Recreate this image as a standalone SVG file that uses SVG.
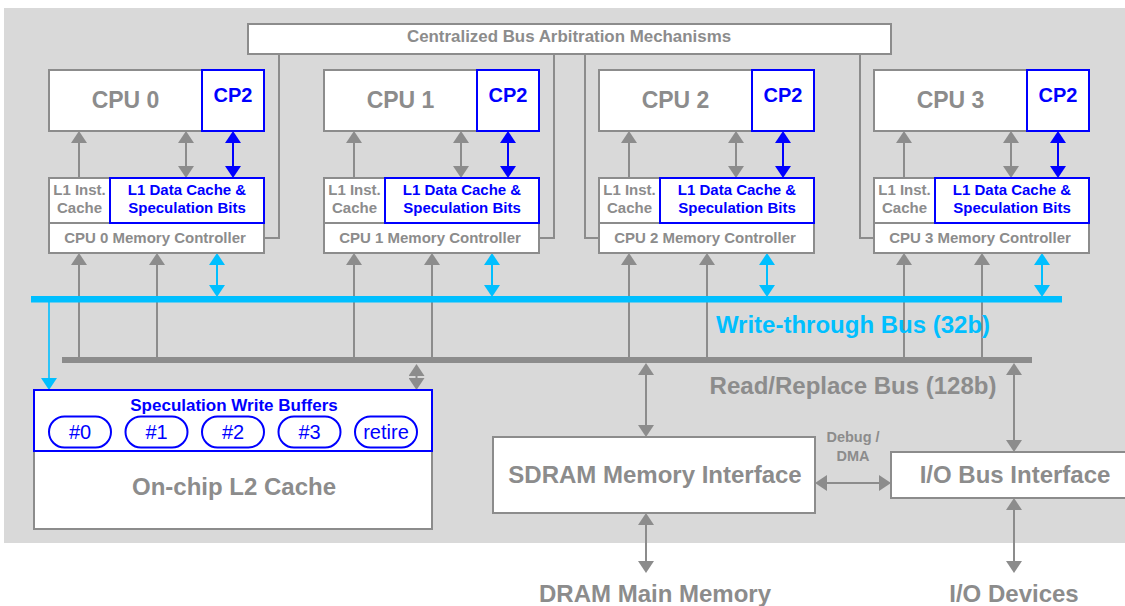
<svg xmlns="http://www.w3.org/2000/svg" width="1125" height="606" viewBox="0 0 1125 606">
<defs>
<style>
text{font-family:"Liberation Sans",Arial,sans-serif;font-weight:bold;text-anchor:middle}
.g{fill:#8c8c8c}
.b{fill:#0000ff}
.c{fill:#00bfff}
.box{fill:#fff;stroke:#8c8c8c;stroke-width:2}
.bbox{fill:#fff;stroke:#0000ff;stroke-width:2}
.bnf{fill:none;stroke:#0000ff;stroke-width:2}
.cpu{font-size:23px}
.big{font-size:24px}
.sm{font-size:15px}
.gl{stroke:#8c8c8c;stroke-width:2;fill:none}
.bl{stroke:#0000ff;stroke-width:2;fill:none}
.cl{stroke:#00bfff;stroke-width:2;fill:none}
.ga{marker-end:url(#ag)}
.gab{marker-start:url(#ag);marker-end:url(#ag)}
.bab{marker-start:url(#ab);marker-end:url(#ab)}
.cab{marker-start:url(#ac);marker-end:url(#ac)}
.oval{font-weight:normal;font-size:20px}
</style>
<marker id="ag" markerUnits="userSpaceOnUse" markerWidth="14" markerHeight="16" refX="2" refY="8" orient="auto-start-reverse" viewBox="0 0 14 16"><path d="M0,0 L12,8 L0,16 z" fill="#8c8c8c"/></marker>
<marker id="ab" markerUnits="userSpaceOnUse" markerWidth="14" markerHeight="16" refX="2" refY="8" orient="auto-start-reverse" viewBox="0 0 14 16"><path d="M0,0 L12,8 L0,16 z" fill="#0000ff"/></marker>
<marker id="ac" markerUnits="userSpaceOnUse" markerWidth="14" markerHeight="16" refX="2" refY="8" orient="auto-start-reverse" viewBox="0 0 14 16"><path d="M0,0 L12,8 L0,16 z" fill="#00bfff"/></marker>
</defs>
<rect x="4" y="8" width="1125" height="535" fill="#d9d9d9"/>

<g id="connectors">
<!-- arbitration links -->
<path class="gl" d="M264,238 H279 V54"/>
<path class="gl" d="M539,238 H554 V54"/>
<path class="gl" d="M599,238 H585 V54"/>
<path class="gl" d="M874,238 H860 V54"/>
<!-- CPU internal arrows -->
<g id="cpu-arrows">
<path class="gl ga" d="M79,178 V141"/><path class="gl gab" d="M186,141 V168"/><path class="bl bab" d="M233,141 V168"/>
<path class="gl ga" d="M354,178 V141"/><path class="gl gab" d="M461,141 V168"/><path class="bl bab" d="M508,141 V168"/>
<path class="gl ga" d="M629,178 V141"/><path class="gl gab" d="M736,141 V168"/><path class="bl bab" d="M783,141 V168"/>
<path class="gl ga" d="M904,178 V141"/><path class="gl gab" d="M1011,141 V168"/><path class="bl bab" d="M1058,141 V168"/>
</g>
<!-- read bus to memory controllers -->
<path class="gl ga" d="M79,358 V263"/><path class="gl ga" d="M157,358 V263"/>
<path class="gl ga" d="M354,358 V263"/><path class="gl ga" d="M432,358 V263"/>
<path class="gl ga" d="M629,358 V263"/><path class="gl ga" d="M707,358 V263"/>
<path class="gl ga" d="M904,358 V263"/><path class="gl ga" d="M982,358 V263"/>
<!-- write-through bus links -->
<path class="cl cab" d="M217,263 V287"/>
<path class="cl cab" d="M492,263 V287"/>
<path class="cl cab" d="M767,263 V287"/>
<path class="cl cab" d="M1042,263 V287"/>
<!-- buses -->
<rect id="write-bus" x="31" y="296" width="1031" height="6.5" fill="#00bfff"/>
<rect id="read-bus" x="62" y="357" width="970" height="6" fill="#8c8c8c"/>
<!-- L2 links -->
<path class="cl" d="M49,302 V380" style="stroke-width:1.6;marker-end:url(#ac)"/>
<path class="gl gab" d="M416.5,374 V380"/>
<!-- memory / IO links -->
<path class="gl gab" d="M646,373 V427"/>
<path class="gl gab" d="M1014,373 V442"/>
<path class="gl gab" d="M825,483 H881"/>
<path class="gl gab" d="M646,523 V563"/>
<path class="gl gab" d="M1014,508 V563"/>
</g>

<g id="arbiter">
<rect class="box" x="248" y="24" width="643" height="30"/>
<text class="g" x="569" y="42" font-size="16.9">Centralized Bus Arbitration Mechanisms</text>
</g>

<g id="cpu0">
<rect class="box" x="49" y="70" width="215" height="61"/>
<rect class="bbox" x="202" y="70" width="62" height="61"/>
<text class="g cpu" x="125.5" y="108">CPU 0</text>
<text class="b" x="233" y="102" font-size="20">CP2</text>
<rect class="box" x="49" y="178" width="61" height="45"/>
<rect class="box" x="49" y="223" width="215" height="30"/>
<rect class="bbox" x="110" y="178" width="154" height="45"/>
<text class="g sm" x="79.5" y="195">L1 Inst.</text><text class="g sm" x="79.5" y="213">Cache</text>
<text class="b sm" x="187" y="195">L1 Data Cache &amp;</text><text class="b sm" x="187" y="213">Speculation Bits</text>
<text class="g sm" x="155" y="243">CPU 0 Memory Controller</text>
</g>

<g id="cpu1">
<rect class="box" x="324" y="70" width="215" height="61"/>
<rect class="bbox" x="477" y="70" width="62" height="61"/>
<text class="g cpu" x="400.5" y="108">CPU 1</text>
<text class="b" x="508" y="102" font-size="20">CP2</text>
<rect class="box" x="324" y="178" width="61" height="45"/>
<rect class="box" x="324" y="223" width="215" height="30"/>
<rect class="bbox" x="385" y="178" width="154" height="45"/>
<text class="g sm" x="354.5" y="195">L1 Inst.</text><text class="g sm" x="354.5" y="213">Cache</text>
<text class="b sm" x="462" y="195">L1 Data Cache &amp;</text><text class="b sm" x="462" y="213">Speculation Bits</text>
<text class="g sm" x="430" y="243">CPU 1 Memory Controller</text>
</g>

<g id="cpu2">
<rect class="box" x="599" y="70" width="215" height="61"/>
<rect class="bbox" x="752" y="70" width="62" height="61"/>
<text class="g cpu" x="675.5" y="108">CPU 2</text>
<text class="b" x="783" y="102" font-size="20">CP2</text>
<rect class="box" x="599" y="178" width="61" height="45"/>
<rect class="box" x="599" y="223" width="215" height="30"/>
<rect class="bbox" x="660" y="178" width="154" height="45"/>
<text class="g sm" x="629.5" y="195">L1 Inst.</text><text class="g sm" x="629.5" y="213">Cache</text>
<text class="b sm" x="737" y="195">L1 Data Cache &amp;</text><text class="b sm" x="737" y="213">Speculation Bits</text>
<text class="g sm" x="705" y="243">CPU 2 Memory Controller</text>
</g>

<g id="cpu3">
<rect class="box" x="874" y="70" width="215" height="61"/>
<rect class="bbox" x="1027" y="70" width="62" height="61"/>
<text class="g cpu" x="950.5" y="108">CPU 3</text>
<text class="b" x="1058" y="102" font-size="20">CP2</text>
<rect class="box" x="874" y="178" width="61" height="45"/>
<rect class="box" x="874" y="223" width="215" height="30"/>
<rect class="bbox" x="935" y="178" width="154" height="45"/>
<text class="g sm" x="904.5" y="195">L1 Inst.</text><text class="g sm" x="904.5" y="213">Cache</text>
<text class="b sm" x="1012" y="195">L1 Data Cache &amp;</text><text class="b sm" x="1012" y="213">Speculation Bits</text>
<text class="g sm" x="980" y="243">CPU 3 Memory Controller</text>
</g>

<g id="bus-labels">
<text class="c big" x="853" y="333">Write-through Bus (32b)</text>
<text class="g big" x="853" y="394">Read/Replace Bus (128b)</text>
</g>

<g id="l2cache">
<rect class="box" x="34" y="390" width="398" height="139"/>
<rect class="bbox" x="34" y="390" width="398" height="61"/>
<text class="b" x="234" y="411" font-size="17">Speculation Write Buffers</text>
<text class="g big" x="234" y="495">On-chip L2 Cache</text>
</g>
<g id="buf0"><rect class="bnf" x="49" y="416.5" width="62" height="31" rx="15.5"/><text class="b oval" x="80" y="439">#0</text></g>
<g id="buf1"><rect class="bnf" x="125.5" y="416.5" width="62" height="31" rx="15.5"/><text class="b oval" x="156.5" y="439">#1</text></g>
<g id="buf2"><rect class="bnf" x="202" y="416.5" width="62" height="31" rx="15.5"/><text class="b oval" x="233" y="439">#2</text></g>
<g id="buf3"><rect class="bnf" x="278.5" y="416.5" width="62" height="31" rx="15.5"/><text class="b oval" x="309.5" y="439">#3</text></g>
<g id="bufretire"><rect class="bnf" x="355" y="416.5" width="62" height="31" rx="15.5"/><text class="b oval" x="386" y="439">retire</text></g>

<g id="sdram">
<rect class="box" x="493" y="437" width="322" height="76"/>
<text class="g big" x="655" y="483">SDRAM Memory Interface</text>
</g>
<g id="iobus">
<rect class="box" x="891" y="452" width="250" height="46"/>
<text class="g big" x="1015" y="483">I/O Bus Interface</text>
</g>
<g id="debug-label">
<text class="g" x="853" y="442" font-size="14.5">Debug /</text>
<text class="g" x="853" y="461" font-size="14.5">DMA</text>
</g>
<g id="dram"><text class="g big" x="655" y="602">DRAM Main Memory</text></g>
<g id="iodev"><text class="g big" x="1014" y="602">I/O Devices</text></g>
</svg>
